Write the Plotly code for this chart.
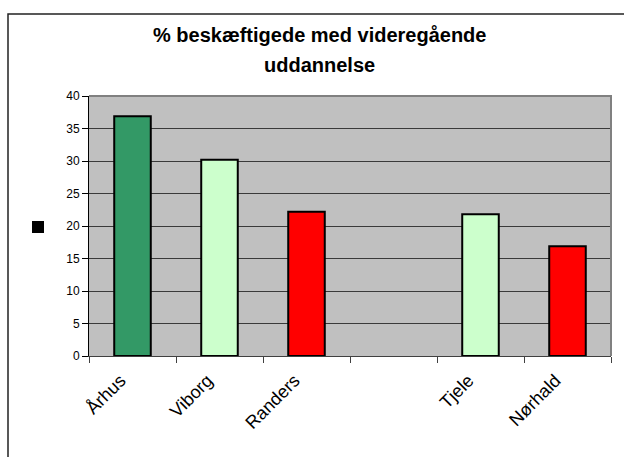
"""Excel-style bar chart: share of employees with higher education."""
import plotly.graph_objects as go

categories = ["Århus", "Viborg", "Randers", " ", "Tjele", "Nørhald"]
values = [36.9, 30.2, 22.2, None, 21.8, 16.9]
bar_colors = ["#339966", "#CCFFCC", "#FF0000", "#FFFFFF", "#CCFFCC", "#FF0000"]
y_ticks = [0, 5, 10, 15, 20, 25, 30, 35, 40]

title_lines = ["% beskæftigede med videregående", "uddannelse"]

# plot area in pixels (for placing paper-coord decorations)
L, T, W, H = 89, 96, 522, 260


def px_x(p):
    return (p - L) / W


def px_y(p):
    return (T + H - p) / H


fig = go.Figure(go.Bar(
    x=categories,
    y=values,
    marker=dict(color=bar_colors, line=dict(color="#000000", width=2)),
    showlegend=False,
))

fig.update_layout(
    width=624, height=457,
    margin=dict(l=L, r=624 - L - W, t=T, b=457 - T - H),
    paper_bgcolor="white",
    plot_bgcolor="#C0C0C0",
    bargap=0.58,
    font=dict(family="Arial, Liberation Sans, sans-serif", color="#000000"),
    xaxis=dict(
        type="category",
        tickangle=-45,
        tickfont=dict(size=18),
        ticklabelshift=-12,
        ticklabelstandoff=6,
        showline=True, linecolor="#404040", linewidth=1,
        ticks="outside", tickson="boundaries", ticklen=6, tickcolor="#404040",
        showgrid=False,
    ),
    yaxis=dict(
        range=[0, 40],
        tickvals=y_ticks,
        tickfont=dict(size=12),
        showline=True, linecolor="#000000", linewidth=1,
        ticks="outside", ticklen=6, tickcolor="#000000",
        showgrid=True, gridcolor="#3a3a3a", gridwidth=1,
        zeroline=False,
    ),
)

for i, line in enumerate(title_lines):
    fig.add_annotation(
        text=f"<b>{line}</b>",
        xref="paper", yref="paper",
        x=px_x(319.5), y=px_y(35 + i * 29.5),
        xanchor="center", yanchor="middle",
        showarrow=False,
        font=dict(size=20, family="Arial, Liberation Sans, sans-serif"),
    )

# gray frame on top / right of the plot area
fig.add_shape(
    type="path", xref="paper", yref="paper",
    path="M 0,1 L 1,1 L 1,0",
    line=dict(color="#808080", width=2), layer="above",
)
# outer chart border (cut off at right and bottom)
fig.add_shape(
    type="rect", xref="paper", yref="paper",
    x0=px_x(8), x1=px_x(640), y0=px_y(470), y1=px_y(14),
    line=dict(color="#222222", width=1.5),
)
# legend key without text
fig.add_shape(
    type="rect", xref="paper", yref="paper",
    x0=px_x(32), x1=px_x(44), y0=px_y(233), y1=px_y(221),
    fillcolor="#000000", line=dict(width=0),
)

# drop the default body margin so the figure sits at the window's corner
fig.write_html(
    "out.html",
    config={"displayModeBar": False},
    post_script="document.body.style.margin='0';document.body.style.overflow='hidden';",
)
